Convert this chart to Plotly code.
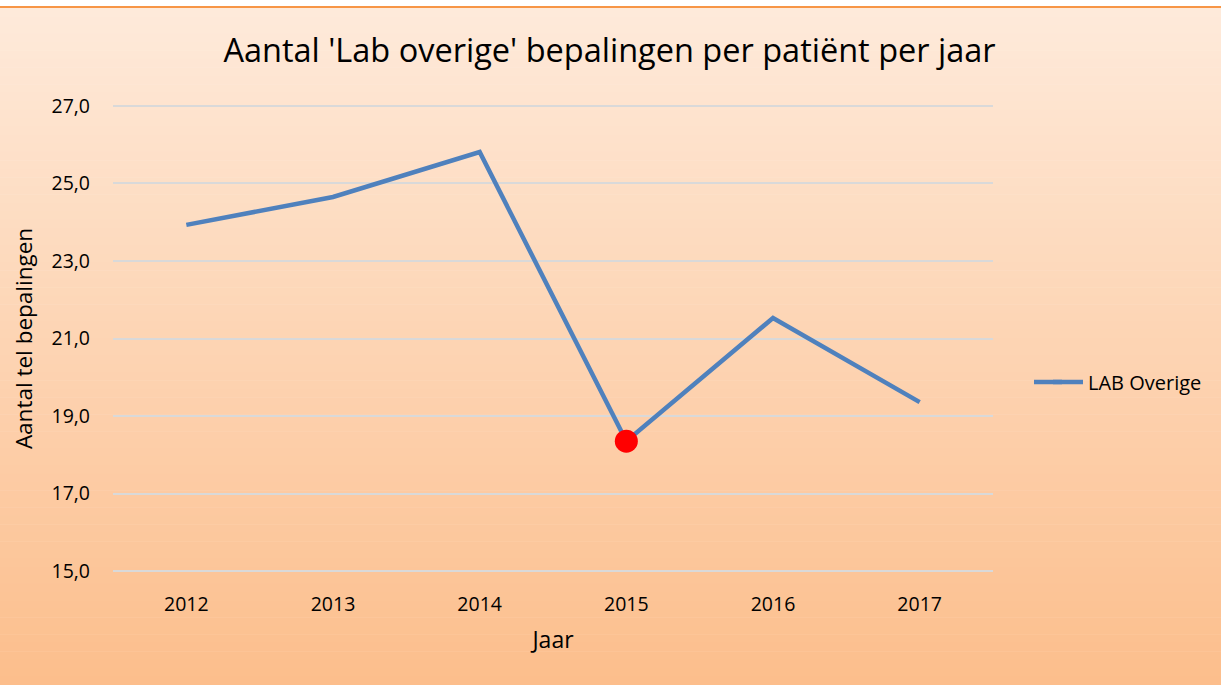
import plotly.graph_objects as go

years = ["2012", "2013", "2014", "2015", "2016", "2017"]
values = [23.93, 24.65, 25.81, 18.35, 21.53, 19.36]
highlight_year = ["2015"]
highlight_value = [18.35]
y_ticks = [15, 17, 19, 21, 23, 25, 27]
y_ticklabels = ["15,0", "17,0", "19,0", "21,0", "23,0", "25,0", "27,0"]

W, H = 1221, 685
L, R, T, B = 113, 228, 102, 110
pw, ph = W - L - R, H - T - B

def px_x(px):
    return (px - L) / pw

def px_y(py):
    return (H - B - py) / ph

fig = go.Figure()
fig.add_trace(go.Scatter(x=years, y=values, mode="lines", name="LAB Overige",
                         line=dict(color="#4F81BD", width=4.5)))
fig.add_trace(go.Scatter(x=highlight_year, y=highlight_value, mode="markers",
                         showlegend=False,
                         marker=dict(color="#FF0000", size=23)))

# gradient background
shapes = []
top_c = (254, 234, 218)
bot_c = (252, 190, 140)
y0px, y1px = 8, H
n = 80
for i in range(n):
    a = y0px + (y1px - y0px) * i / n
    b = y0px + (y1px - y0px) * (i + 1) / n + 0.5
    t = (i + 0.5) / n
    c = tuple(round(top_c[k] + (bot_c[k] - top_c[k]) * t) for k in range(3))
    shapes.append(dict(type="rect", xref="paper", yref="paper", layer="below",
                       x0=px_x(0), x1=px_x(W), y0=px_y(b), y1=px_y(a),
                       fillcolor="rgb(%d,%d,%d)" % c, line=dict(width=0)))
shapes.append(dict(type="rect", xref="paper", yref="paper", layer="below",
                   x0=px_x(0), x1=px_x(W), y0=px_y(8), y1=px_y(6),
                   fillcolor="#F79646", line=dict(width=0)))
# extend the legend line sample to the reference length
shapes.append(dict(type="line", xref="paper", yref="paper", layer="above",
                   x0=px_x(1034), x1=px_x(1062), y0=px_y(382), y1=px_y(382),
                   line=dict(color="#4F81BD", width=4.5)))

fig.update_layout(
    width=W, height=H,
    margin=dict(l=L, r=R, t=T, b=B),
    paper_bgcolor="white",
    plot_bgcolor="rgba(0,0,0,0)",
    shapes=shapes,
    font=dict(family="Open Sans", color="black"),
    title=dict(text="Aantal 'Lab overige' bepalingen per patiënt per jaar",
               x=(222 + 997) / 2 / W, xanchor="center", y=1 - 51 / H, yanchor="middle",
               font=dict(size=32.5, family="Open Sans", color="black")),
    xaxis=dict(type="category", range=[-0.5, 5.5], showgrid=False, showline=False,
               zeroline=False, ticks="", tickfont=dict(size=19.5), ticklabelstandoff=15,
               title=dict(text="Jaar", font=dict(size=23), standoff=16)),
    yaxis=dict(range=[14.9, 27.1], tickvals=y_ticks, ticktext=y_ticklabels,
               showgrid=True, gridcolor="#D9D9D9", gridwidth=1.5, zeroline=False,
               showline=False, ticks="", tickfont=dict(size=19.5), ticklabelstandoff=22,
               title=dict(text="Aantal tel bepalingen", font=dict(size=22.5), standoff=12)),
    legend=dict(x=px_x(1048), y=px_y(382), xanchor="left", yanchor="middle",
                bgcolor="rgba(0,0,0,0)", font=dict(size=20), itemwidth=30),
    showlegend=True,
)

fig.write_html("out.html", config={"displayModeBar": False},
               post_script="document.body.style.margin='0px';")
